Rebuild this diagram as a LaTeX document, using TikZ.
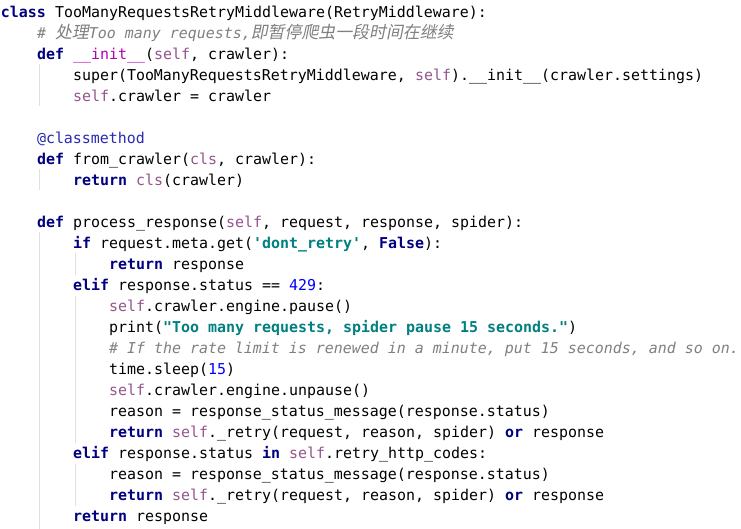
\documentclass[tikz,border=0pt]{standalone}
\usepackage{fontspec}
\setmonofont{DejaVu Sans Mono}
\newfontfamily\cjk{Noto Sans CJK SC}[FakeSlant=0.2]
\definecolor{kw}{HTML}{000080}
\definecolor{slfc}{HTML}{94558D}
\definecolor{strc}{HTML}{008080}
\definecolor{numc}{HTML}{0000FF}
\definecolor{cmtc}{HTML}{808080}
\definecolor{decoc}{HTML}{2A2AB0}
\definecolor{magc}{HTML}{B200B2}
\definecolor{guidec}{HTML}{E0E0E0}
\newcommand\kwd[1]{{\bfseries\color{kw}#1}}
\newcommand\slf[1]{{\color{slfc}#1}}
\newcommand\strg[1]{{\bfseries\color{strc}#1}}
\newcommand\numb[1]{{\color{numc}#1}}
\newcommand\cmt[1]{{\itshape\color{cmtc}#1}}
\newcommand\decor[1]{{\color{decoc}#1}}
\newcommand\magic[1]{{\color{magc}#1}}
\newcommand\zh[1]{{\cjk\fontsize{16.9}{21}\selectfont #1}}
\begin{document}
\begin{tikzpicture}[x=1pt,y=-1pt,
  codeline/.style={anchor=base west,inner sep=0pt,outer sep=0pt,
    font=\ttfamily\fontsize{14.95}{21}\selectfont\frenchspacing},
  guide/.style={draw=guidec,line width=1pt}]
\useasboundingbox[fill=white] (0,0) rectangle (741,529);
\def\cw{9.0}
\def\bl{17.3}
\def\lh{21}
\newcommand\row[3]{\node[codeline] (#1) at ({1+#2*\cw},{\bl+(#1-1)*\lh}) {#3};}
% guides
\draw[guide] (39.3,64.5) -- (39.3,106.5);
\draw[guide] (39.3,169.5) -- (39.3,190.5);
\draw[guide] (39.3,232.5) -- (39.3,529);
\draw[guide] (75.3,253.5) -- (75.3,274.5);
\draw[guide] (75.3,295.5) -- (75.3,442.5);
\draw[guide] (75.3,463.5) -- (75.3,505.5);
% code
\row{1}{0}{\kwd{class} TooManyRequestsRetryMiddleware(RetryMiddleware):}
\row{2}{4}{\cmt{\# \zh{处理}Too many requests,\zh{即暂停爬虫一段时间在继续}}}
\row{3}{4}{\kwd{def} \magic{\_\_init\_\_}(\slf{self}, crawler):}
\row{4}{8}{super(TooManyRequestsRetryMiddleware, \slf{self}).\_\_init\_\_(crawler.settings)}
\row{5}{8}{\slf{self}.crawler = crawler}
\row{7}{4}{\decor{@classmethod}}
\row{8}{4}{\kwd{def} from\_crawler(\slf{cls}, crawler):}
\row{9}{8}{\kwd{return} \slf{cls}(crawler)}
\row{11}{4}{\kwd{def} process\_response(\slf{self}, request, response, spider):}
\row{12}{8}{\kwd{if} request.meta.get(\strg{'dont\_retry'}, \kwd{False}):}
\row{13}{12}{\kwd{return} response}
\row{14}{8}{\kwd{elif} response.status == \numb{429}:}
\row{15}{12}{\slf{self}.crawler.engine.pause()}
\row{16}{12}{print(\strg{"Too many requests, spider pause 15 seconds."})}
\row{17}{12}{\cmt{\# If the rate limit is renewed in a minute, put 15 seconds, and so on.}}
\row{18}{12}{time.sleep(\numb{15})}
\row{19}{12}{\slf{self}.crawler.engine.unpause()}
\row{20}{12}{reason = response\_status\_message(response.status)}
\row{21}{12}{\kwd{return} \slf{self}.\_retry(request, reason, spider) \kwd{or} response}
\row{22}{8}{\kwd{elif} response.status \kwd{in} \slf{self}.retry\_http\_codes:}
\row{23}{12}{reason = response\_status\_message(response.status)}
\row{24}{12}{\kwd{return} \slf{self}.\_retry(request, reason, spider) \kwd{or} response}
\row{25}{8}{\kwd{return} response}
\end{tikzpicture}
\end{document}
